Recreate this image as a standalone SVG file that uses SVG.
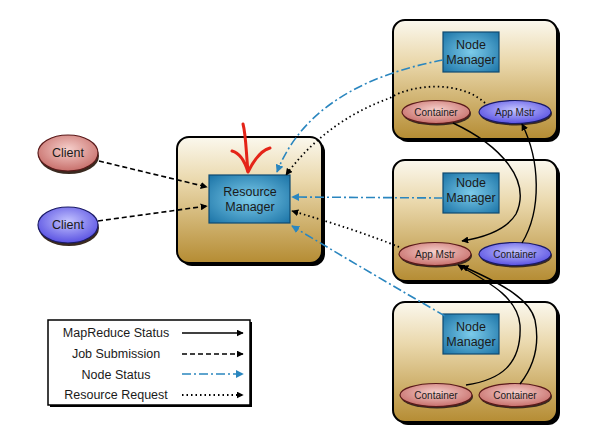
<svg xmlns="http://www.w3.org/2000/svg" width="593" height="431" viewBox="0 0 593 431">
<defs>
<linearGradient id="boxg" x1="0" y1="0" x2="0" y2="1">
<stop offset="0" stop-color="#fbf8ee"/>
<stop offset="0.35" stop-color="#ead8ac"/>
<stop offset="1" stop-color="#b58c33"/>
</linearGradient>
<radialGradient id="blueg" cx="0.5" cy="0.5" r="0.7">
<stop offset="0" stop-color="#7ccbea"/>
<stop offset="1" stop-color="#1b73a6"/>
</radialGradient>
<radialGradient id="redg" cx="0.5" cy="0.4" r="0.6">
<stop offset="0" stop-color="#f6d0cc"/>
<stop offset="1" stop-color="#c8706c"/>
</radialGradient>
<radialGradient id="purg" cx="0.5" cy="0.4" r="0.6">
<stop offset="0" stop-color="#c4c4ff"/>
<stop offset="1" stop-color="#5a52e2"/>
</radialGradient>
<marker id="ab" viewBox="0 0 10 10" refX="9" refY="5" markerWidth="7" markerHeight="7" orient="auto" markerUnits="userSpaceOnUse">
<path d="M0,0 L10,5 L0,10 z" fill="#000"/>
</marker>
<marker id="abl" viewBox="0 0 10 10" refX="9" refY="5" markerWidth="8" markerHeight="8" orient="auto" markerUnits="userSpaceOnUse">
<path d="M0,0 L10,5 L0,10 z" fill="#2a86bf"/>
</marker>
</defs>
<style>
.box{fill:url(#boxg);stroke:#000;stroke-width:2}
.shadow{fill:#000}
.nm{fill:url(#blueg);stroke:#0f4a70;stroke-width:1.2}
.red{fill:url(#redg);stroke:#5a1a1a;stroke-width:1.2}
.pur{fill:url(#purg);stroke:#1a1a66;stroke-width:1.2}
.esh{fill:#3a2a20}
text{font-family:"Liberation Sans",Arial,sans-serif;fill:#1a1a1a;text-anchor:middle}
.t12{font-size:12.5px}
.t10{font-size:10px}
.mr{fill:none;stroke:#000;stroke-width:1.4}
.js{fill:none;stroke:#000;stroke-width:1.6;stroke-dasharray:5 3}
.ns{fill:none;stroke:#2a86bf;stroke-width:1.6;stroke-dasharray:9 3 2 3}
.rr{fill:none;stroke:#000;stroke-width:1.8;stroke-dasharray:1.5 3}
</style>

<g id="client1">
<ellipse class="esh" cx="69" cy="156" rx="30" ry="18"/>
<ellipse class="red" cx="68" cy="153" rx="30" ry="18"/>
<text class="t12" x="68" y="157">Client</text>
</g>
<g id="client2">
<ellipse class="esh" cx="69" cy="228" rx="30" ry="18"/>
<ellipse class="pur" cx="68" cy="225" rx="30" ry="18"/>
<text class="t12" x="68" y="229">Client</text>
</g>

<g id="rm">
<rect class="shadow" x="180" y="140" width="145" height="126" rx="12"/>
<rect class="box" x="177" y="137" width="145" height="126" rx="12"/>
<rect class="nm" x="209" y="175" width="81" height="48"/>
<text class="t12" x="250" y="196">Resource</text>
<text class="t12" x="250" y="211">Manager</text>
</g>

<g id="node1">
<rect class="shadow" x="396" y="23" width="164" height="119" rx="12"/>
<rect class="box" x="393" y="20" width="164" height="119" rx="12"/>
<rect class="nm" x="443" y="32" width="56" height="40"/>
<text class="t12" x="471" y="49">Node</text>
<text class="t12" x="471" y="64">Manager</text>
<ellipse class="esh" cx="437" cy="114" rx="34" ry="11.5"/>
<ellipse class="red" cx="436" cy="112" rx="34" ry="11.5"/>
<text class="t10" x="436" y="116">Container</text>
<ellipse class="esh" cx="516" cy="114" rx="36" ry="11.5"/>
<ellipse class="pur" cx="515" cy="112" rx="36" ry="11.5"/>
<text class="t10" x="515" y="116">App Mstr</text>
</g>

<g id="node2">
<rect class="shadow" x="396" y="163" width="164" height="121" rx="12"/>
<rect class="box" x="393" y="160" width="164" height="121" rx="12"/>
<rect class="nm" x="443" y="173" width="56" height="40"/>
<text class="t12" x="471" y="187">Node</text>
<text class="t12" x="471" y="202">Manager</text>
<ellipse class="esh" cx="436" cy="256" rx="36" ry="11.5"/>
<ellipse class="red" cx="435" cy="254" rx="36" ry="11.5"/>
<text class="t10" x="435" y="258">App Mstr</text>
<ellipse class="esh" cx="516" cy="256" rx="36" ry="11.5"/>
<ellipse class="pur" cx="515" cy="254" rx="36" ry="11.5"/>
<text class="t10" x="515" y="258">Container</text>
</g>

<g id="node3">
<rect class="shadow" x="396" y="305" width="164" height="120" rx="12"/>
<rect class="box" x="393" y="302" width="164" height="120" rx="12"/>
<rect class="nm" x="443" y="314" width="56" height="40"/>
<text class="t12" x="471" y="331">Node</text>
<text class="t12" x="471" y="346">Manager</text>
<ellipse class="esh" cx="437" cy="397" rx="36" ry="11.5"/>
<ellipse class="red" cx="436" cy="395" rx="36" ry="11.5"/>
<text class="t10" x="436" y="399">Container</text>
<ellipse class="esh" cx="516" cy="397" rx="36" ry="11.5"/>
<ellipse class="red" cx="515" cy="395" rx="36" ry="11.5"/>
<text class="t10" x="515" y="399">Container</text>
</g>

<g id="connectors">
<path class="js" d="M99,161 L207,187" marker-end="url(#ab)"/>
<path class="js" d="M98,221 L207,206" marker-end="url(#ab)"/>
<path class="ns" d="M443,60 C380,72 305,100 277,172" marker-end="url(#abl)"/>
<path class="rr" d="M485,103 C460,80 412,84 390,98 C345,114 310,142 286,175" marker-end="url(#ab)"/>
<path class="ns" d="M443,198 L292,197" marker-end="url(#abl)"/>
<path class="rr" d="M399,247 C370,235 330,222 292,211" marker-end="url(#ab)"/>
<path class="ns" d="M445,316 C400,290 340,255 292,226" marker-end="url(#abl)"/>
<path class="mr" d="M453,123 C500,145 532,180 516,214 C505,232 480,238 462,241" marker-end="url(#ab)"/>
<path class="mr" d="M522,243 C542,210 540,160 522,124" marker-end="url(#ab)"/>
<path class="mr" d="M466,385 C500,380 522,365 520,325 C518,300 495,285 458,265" marker-end="url(#ab)"/>
<path class="mr" d="M520,384 C535,365 540,345 535,320 C530,300 505,285 462,266" marker-end="url(#ab)"/>
</g>

<g id="annotation">
<path d="M243,124 C246,135 246,152 248,171" fill="none" stroke="#e42418" stroke-width="3" stroke-linecap="round"/>
<path d="M232,151 C240,153 245,162 248,172 C254,160 262,150 270,148" fill="none" stroke="#e42418" stroke-width="3" stroke-linecap="round" stroke-linejoin="round"/>
</g>

<g id="legend">
<rect class="shadow" x="50" y="322" width="202" height="85"/>
<rect x="48" y="320" width="202" height="85" fill="#fff" stroke="#000" stroke-width="1.5"/>
<text class="t12" x="116" y="337">MapReduce Status</text>
<text class="t12" x="116" y="358">Job Submission</text>
<text class="t12" x="116" y="379">Node Status</text>
<text class="t12" x="116" y="399">Resource Request</text>
<path class="mr" d="M182,333 L243,333" marker-end="url(#ab)"/>
<path class="js" d="M182,354 L243,354" marker-end="url(#ab)"/>
<path class="ns" d="M182,374 L243,374" marker-end="url(#abl)"/>
<path class="rr" d="M182,395 L243,395" marker-end="url(#ab)"/>
</g>
</svg>
